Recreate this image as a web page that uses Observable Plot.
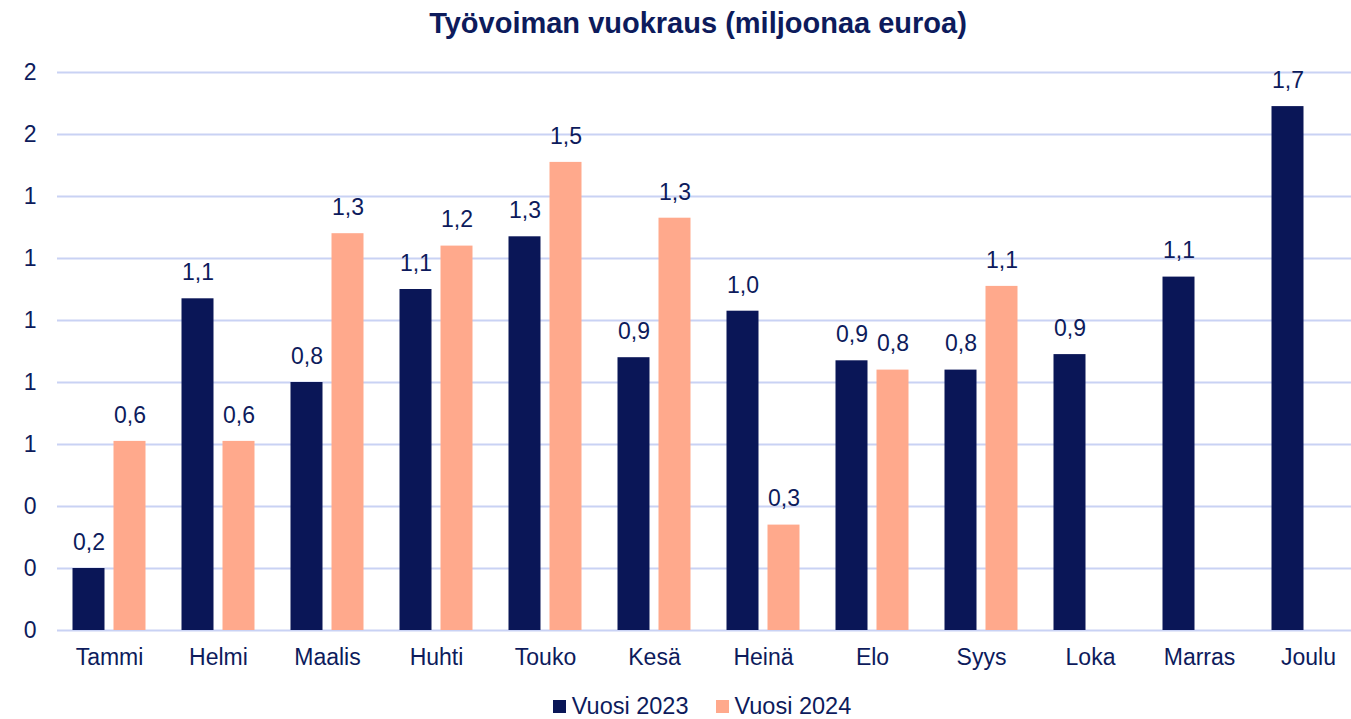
<!DOCTYPE html>
<html>
<head>
<meta charset="utf-8">
<script src="https://cdn.jsdelivr.net/npm/d3@7"></script>
<script src="https://cdn.jsdelivr.net/npm/@observablehq/plot@0.6"></script>
<style>
  html, body { margin: 0; background: #fff; font-family: "Liberation Sans", Arial, sans-serif; }
  #wrap { position: relative; width: 1351px; height: 719px; overflow: hidden; }
  #title { position: absolute; top: 0; left: 0; width: 1396px; height: 45px; line-height: 46px; text-align: center; font-weight: bold; font-size: 29px; color: #0d1b5c; }
  #chart { position: absolute; top: 45px; left: 0; }
  #legend { position: absolute; top: 693px; left: 0; width: 1404px; display: flex; justify-content: center; align-items: center; gap: 27px; font-size: 23.5px; line-height: 26px; color: #0d1b5c; height: 26px; }
  #legend span.sw { display: inline-block; width: 13px; height: 13px; margin-right: 6px; }
  #legend div { display: flex; align-items: center; }
</style>
</head>
<body>
<div id="wrap">
<div id="title">Työvoiman vuokraus (miljoonaa euroa)</div>
<div id="chart"></div>
<div id="legend"></div>
</div>
<script>
const months = ["Tammi","Helmi","Maalis","Huhti","Touko","Kesä","Heinä","Elo","Syys","Loka","Marras","Joulu"];
const series = ["Vuosi 2023","Vuosi 2024"];
const values2023 = [0.2, 1.07, 0.8, 1.1, 1.27, 0.88, 1.03, 0.87, 0.84, 0.89, 1.14, 1.69];
const values2024 = [0.61, 0.61, 1.28, 1.24, 1.51, 1.33, 0.34, 0.84, 1.11, null, null, null];
const yTicks = [0, 0.2, 0.4, 0.6, 0.8, 1.0, 1.2, 1.4, 1.6, 1.8];
const yTickLabels = ["0","0","0","1","1","1","1","1","2","2"];
const colors = ["#0a1657", "#ffa98c"];

const data = [];
months.forEach((m, i) => {
  if (values2023[i] != null) data.push({month: m, series: series[0], value: values2023[i]});
  if (values2024[i] != null) data.push({month: m, series: series[1], value: values2024[i]});
});

const navy = "#0d1b5c";
const fmt = v => v.toFixed(1).replace(".", ",");

const chart = Plot.plot({
  width: 1369,
  height: 635,
  marginTop: 27,
  marginBottom: 50,
  marginLeft: 52,
  marginRight: 0,
  style: {fontFamily: "Liberation Sans, Arial, sans-serif", fontSize: "23px", color: navy, background: "white", maxWidth: "none"},
  fx: {domain: months, padding: 0, label: null, axis: null},
  x: {domain: series, paddingInner: 0.214, paddingOuter: 0.41, axis: null},
  y: {domain: [0, 1.8], axis: null},
  color: {domain: series, range: colors},
  marks: [
    Plot.ruleY(yTicks, {y: d => d, stroke: "#c9d2f4", strokeWidth: 2}),
    Plot.barY(data, {fx: "month", x: "series", y: "value", fill: "series", dx: -2.5}),
    Plot.text(data, {fx: "month", x: "series", y: "value", text: d => fmt(d.value), dx: -2.5, dy: -26, fill: navy, fontSize: 23}),
    Plot.axisY({ticks: yTicks, tickSize: 0, tickPadding: 21, tickFormat: (d, i) => yTickLabels[i], fill: navy, fontSize: 23, label: null}),
    Plot.axisFx({anchor: "bottom", tickSize: 0, tickPadding: 18, dx: -2.5, fill: navy, fontSize: 23, label: null})
  ]
});
document.getElementById("chart").appendChild(chart);

const legend = document.getElementById("legend");
series.forEach((s, i) => {
  const d = document.createElement("div");
  d.innerHTML = `<span class="sw" style="background:${colors[i]}"></span>${s}`;
  legend.appendChild(d);
});
</script>
</body>
</html>
